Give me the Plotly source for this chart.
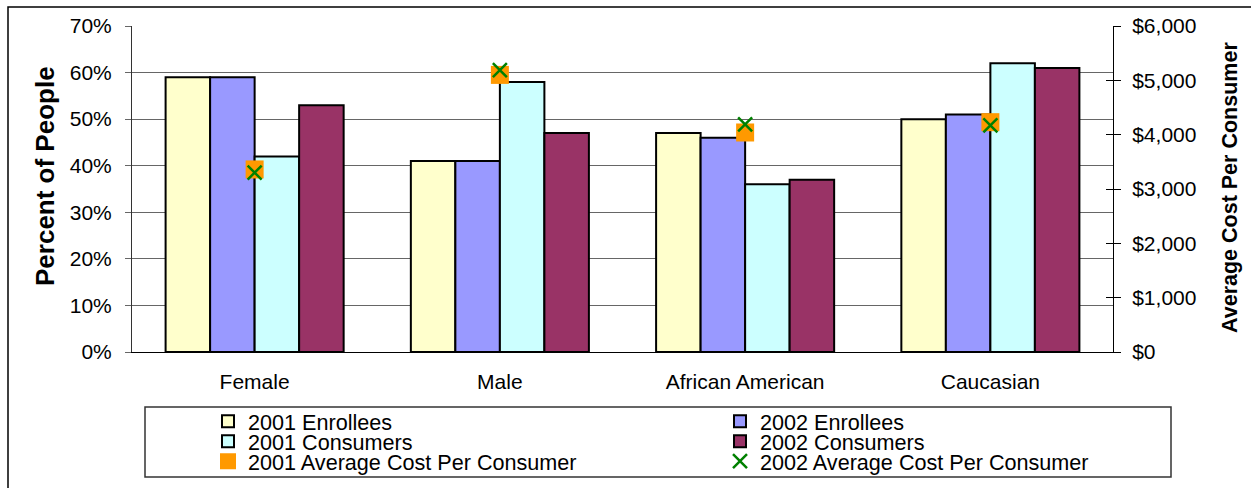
import plotly.graph_objects as go

categories = ["Female", "Male", "African American", "Caucasian"]
enrollees_2001 = [59, 41, 47, 50]
enrollees_2002 = [59, 41, 46, 51]
consumers_2001 = [42, 58, 36, 62]
consumers_2002 = [53, 47, 37, 61]
avg_cost_2001 = [3360, 5100, 4040, 4230]
avg_cost_2002 = [3300, 5190, 4190, 4170]

FONT = "Liberation Sans, Arial, sans-serif"
W, H = 1251, 488
L, R, T, B = 132, 138, 26, 136
PW, PH = W - L - R, H - T - B


def px(x):
    return (x - L) / PW


def py(y):
    return (H - B - y) / PH


fig = go.Figure()

bar_specs = [
    ("2001 Enrollees", enrollees_2001, "#FFFFCC", "legend"),
    ("2002 Enrollees", enrollees_2002, "#9999FF", "legend2"),
    ("2001 Consumers", consumers_2001, "#CCFFFF", "legend3"),
    ("2002 Consumers", consumers_2002, "#993366", "legend4"),
]
for name, vals, color, lg in bar_specs:
    fig.add_trace(go.Bar(
        x=categories, y=vals, name=name, legend=lg,
        marker=dict(color=color, line=dict(color="black", width=2)),
    ))

fig.add_trace(go.Scatter(
    x=categories, y=avg_cost_2001, name="2001 Average Cost Per Consumer",
    mode="markers", yaxis="y2", legend="legend5",
    marker=dict(symbol="square", size=18, color="#FF9900", line=dict(width=0)),
))
fig.add_trace(go.Scatter(
    x=categories, y=avg_cost_2002, name="2002 Average Cost Per Consumer",
    mode="markers", yaxis="y2", legend="legend6",
    marker=dict(symbol="x-thin", size=14, color="#008000",
                line=dict(width=2.5, color="#008000")),
))

# legends (one per entry, placed on a 2x3 grid)
col_x = [208 / W, 720 / W]
row_y = [1 - 421.7 / H, 1 - 441.7 / H, 1 - 461.7 / H]
legend_layout = {}
names = ["legend", "legend2", "legend3", "legend4", "legend5", "legend6"]
for i, nm in enumerate(names):
    r, c = divmod(i, 2)
    legend_layout[nm] = dict(
        xref="container", yref="container", x=col_x[c], y=row_y[r],
        xanchor="left", yanchor="middle", bgcolor="rgba(0,0,0,0)",
        borderwidth=0, font=dict(family=FONT, size=21.6, color="black"),
    )

fig.update_layout(
    width=W, height=H,
    margin=dict(l=L, r=R, t=T, b=B, autoexpand=False),
    paper_bgcolor="white", plot_bgcolor="white",
    barmode="group", bargap=0.274, bargroupgap=0,
    font=dict(family=FONT, size=21, color="black"),
    showlegend=True,
    xaxis=dict(
        showline=True, linecolor="black", linewidth=1, ticks="",
        ticklabelstandoff=11, tickfont=dict(size=21),
    ),
    yaxis=dict(
        range=[0, 70], dtick=10, ticksuffix="%", showgrid=True,
        gridcolor="#666666", gridwidth=1, showline=True, linecolor="#333333",
        ticks="outside", ticklen=6, tickcolor="#666666",
        ticklabelstandoff=9, zeroline=False, fixedrange=True,
    ),
    yaxis2=dict(
        range=[0, 6000], dtick=1000, tickformat="$,.0f", overlaying="y",
        side="right", showgrid=False, showline=True, linecolor="black",
        ticks="outside", ticklen=7, tickcolor="black", ticklabelstandoff=7,
        zeroline=False,
    ),
    yaxis3=dict(
        range=[0, 6000], dtick=1000, overlaying="y", side="right",
        showgrid=False, showline=False, ticks="inside", ticklen=7,
        tickcolor="black", showticklabels=False, zeroline=False,
    ),
    **legend_layout,
)

# dummy trace to activate yaxis3
fig.add_trace(go.Scatter(x=categories, y=[None] * 4, yaxis="y3",
                         showlegend=False, hoverinfo="skip"))

fig.add_annotation(
    text="<b>Percent of People</b>", xref="paper", yref="paper",
    x=px(45), y=py(176), xanchor="center", yanchor="middle",
    textangle=-90, showarrow=False,
    font=dict(family=FONT, size=26, color="black"),
)
fig.add_annotation(
    text="<b>Average Cost Per Consumer</b>", xref="paper", yref="paper",
    x=px(1230), y=py(188), xanchor="center", yanchor="middle",
    textangle=-90, showarrow=False,
    font=dict(family=FONT, size=21.5, color="black"),
)

# legend box
fig.add_shape(type="rect", xref="paper", yref="paper",
              x0=px(145), x1=px(1171), y0=py(477), y1=py(407),
              line=dict(color="#333333", width=1.5), layer="above")
# outer chart frame
fig.add_shape(type="rect", xref="paper", yref="paper",
              x0=px(8), x1=px(1270), y0=py(510), y1=py(7),
              line=dict(color="black", width=1.5), layer="above")

fig.write_html("out.html")
